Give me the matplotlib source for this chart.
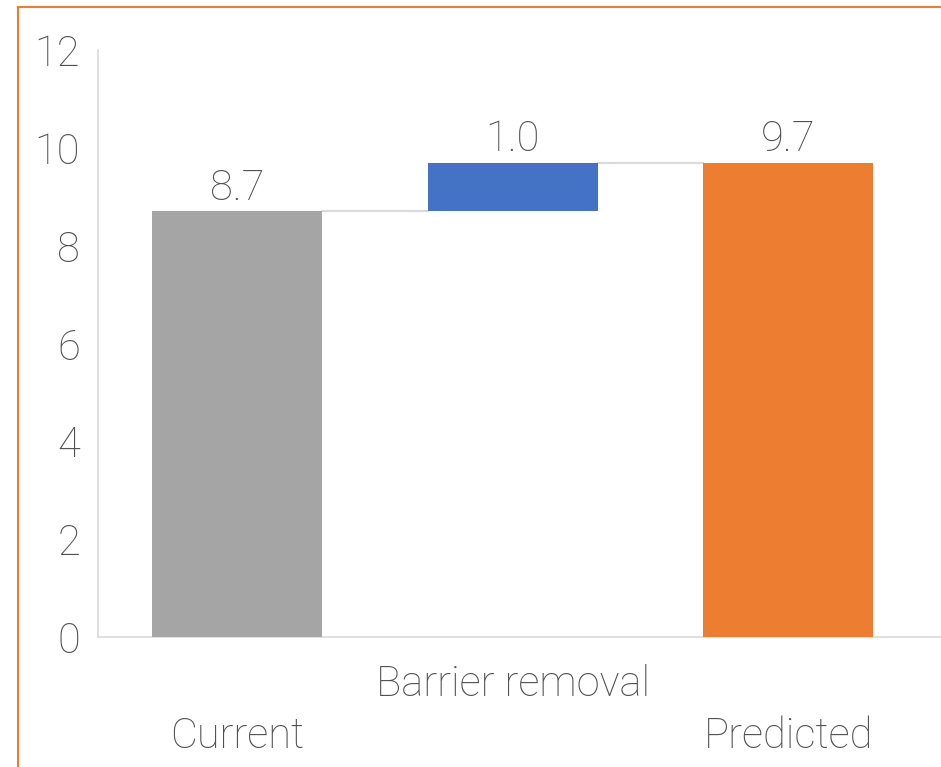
import matplotlib.pyplot as plt
import matplotlib.transforms as mtransforms
from matplotlib.lines import Line2D

categories = ["Current", "Barrier removal", "Predicted"]
values = [8.7, 1.0, 9.7]
is_total = [True, False, True]
colors = ["#A5A5A5", "#4472C4", "#ED7D31"]
yticks = [0, 2, 4, 6, 8, 10, 12]

plt.rcParams['font.family'] = ['Roboto', 'DejaVu Sans']
txt = "#505050"
fs = 30
fw = "light"

fig = plt.figure(figsize=(9.41, 7.67), dpi=100)
ax = fig.add_axes([98/941, 1-637/767, 1-98/941, (637-50)/767])

# waterfall bottoms
bottoms = []
run = 0
for v, tot in zip(values, is_total):
  if tot:
    bottoms.append(0)
    run = v
  else:
    bottoms.append(run)
    run += v

w = 0.617
x = list(range(len(categories)))
ax.bar(x, values, width=w, bottom=bottoms, color=colors, zorder=3)

# connector lines
tops = [b+v for b, v in zip(bottoms, values)]
for i in range(len(x)-1):
  ax.plot([x[i]+w/2, x[i+1]-w/2], [tops[i], tops[i]], color="#D9D9D9", lw=1.5, zorder=2)

for i in x:
  ax.annotate(f"{values[i]:.1f}", (x[i], tops[i]), xytext=(0, 2), textcoords="offset points",
              ha="center", va="bottom", fontsize=fs, color=txt, fontweight=fw)

ax.set_xlim(-0.505, 2.555)
ax.set_ylim(0, 12)
ax.set_yticks(yticks)
ax.tick_params(axis="y", length=0, pad=13, labelsize=fs, labelcolor=txt)
for lab in ax.get_yticklabels():
  lab.set_fontweight(fw)
ax.set_xticks([])

for s in ["top", "right"]:
  ax.spines[s].set_visible(False)
ax.spines["left"].set_color("#D9D9D9")
ax.spines["bottom"].set_color("#D9D9D9")
ax.spines["left"].set_linewidth(1.2)
ax.spines["bottom"].set_linewidth(1.2)

# staggered category labels
trans = mtransforms.blended_transform_factory(ax.transData, fig.transFigure)
for i, c in enumerate(categories):
  yy = 1-685/767 if i % 2 else 1-737/767
  ax.text(x[i], yy, c, transform=trans, ha="center", va="center",
          fontsize=fs, color=txt, fontweight=fw)

# orange frame
fig.add_artist(Line2D([18/941, 1], [1-7/767, 1-7/767], color="#ED7D31", lw=1.5))
fig.add_artist(Line2D([18/941, 18/941], [0, 1-7/767], color="#ED7D31", lw=1.5))

fig.savefig("out.png", dpi=100)
